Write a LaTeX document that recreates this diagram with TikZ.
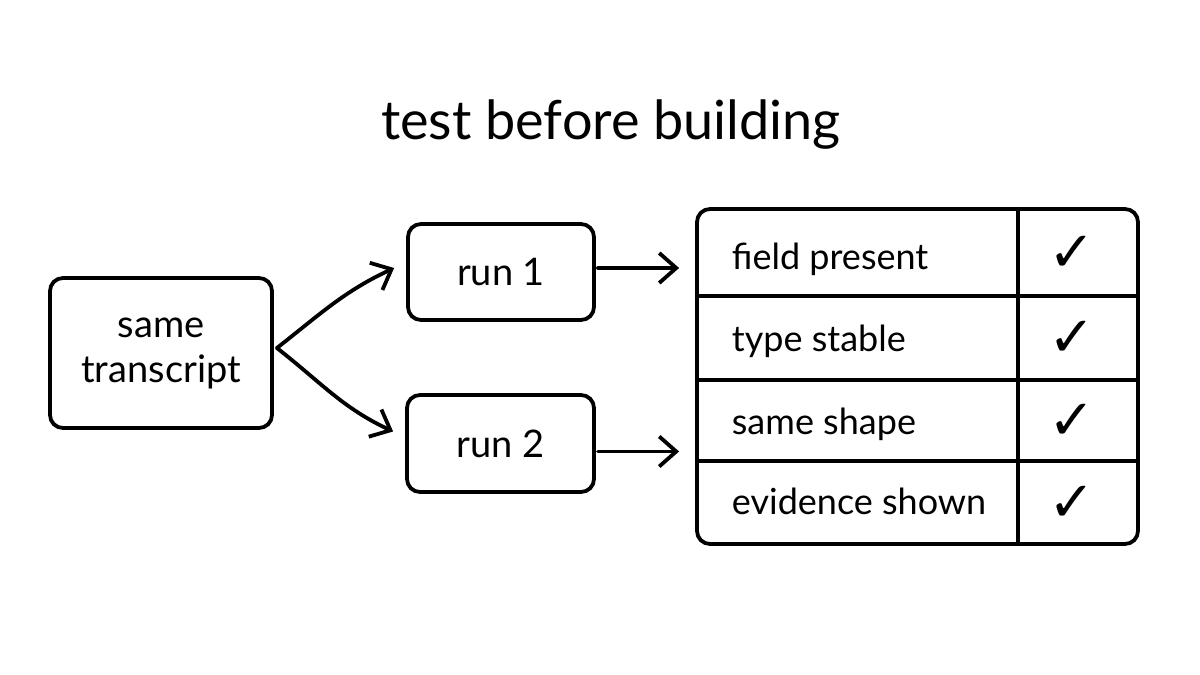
\documentclass[tikz,border=0pt]{standalone}
\usepackage{fontspec}
\setmainfont{Lato}
\newfontfamily\symfont{DejaVu Sans}
\usetikzlibrary{arrows.meta,calc}
\begin{document}
\begin{tikzpicture}[x=1pt,y=1pt,
  line width=3.8pt, line cap=round, line join=round,
  boxstyle/.style={draw, rounded corners=13pt, inner sep=0pt, align=center, font=\fontsize{38}{45}\selectfont},
  rowtext/.style={anchor=base west, inner sep=0pt, font=\fontsize{36}{42}\selectfont},
  tick/.style={inner sep=0pt, font=\symfont\fontsize{56}{60}\selectfont},
  conn/.style={-{Straight Barb[length=17pt,width=30pt,line width=3.8pt]}}]
\useasboundingbox (0,0) rectangle (1200,675);
\fill[white] (0,0) rectangle (1200,675);
\node[anchor=base, font=\fontsize{54}{60}\selectfont, inner sep=0pt] (title) at (611,535) {test before building};
\node[boxstyle, minimum width=222pt, minimum height=150pt] (src) at (161,322) {same\\transcript};
\node[boxstyle, minimum width=186pt, minimum height=96pt] (run1) at (501,403) {run 1};
\node[boxstyle, minimum width=187pt, minimum height=97pt] (run2) at (500.5,231.5) {run 2};
\node[draw, rounded corners=13pt, minimum width=441pt, minimum height=335pt, inner sep=0pt] (table) at (917.5,298.5) {};
% table rules
\draw (1018,466) -- (1018,131);
\draw (697,379) -- (1138,379);
\draw (697,295) -- (1138,295);
\draw (697,214) -- (1138,214);
% row texts
\node[rowtext] (r1) at (730,405) {field present};
\node[rowtext] (r2) at (730,323) {type stable};
\node[rowtext] (r3) at (730,240) {same shape};
\node[rowtext] (r4) at (730,160) {evidence shown};
\node[tick] (t1) at (1072,421) {✓};
\node[tick] (t2) at (1072,336) {✓};
\node[tick] (t3) at (1072,253) {✓};
\node[tick] (t4) at (1072,171) {✓};
% connectors
\coordinate (e1) at ($(run1.west)+(-12,4)$);
\coordinate (e2) at ($(run2.west)+(-12,12)$);
\draw[conn] ($(src.east)+(3,5)$) to[out=38, in=205] (e1);
\draw[conn] ($(src.east)+(3,5)$) to[out=-38, in=155] (e2);
\coordinate (f1) at ($(run1.east -| table.west)+(-16,4)$);
\coordinate (f2) at ($(run2.east -| table.west)+(-16,-8)$);
\draw[conn] ($(run1.east)+(2,4)$) -- (f1);
\draw[conn] ($(run2.east)+(2,-8)$) -- (f2);
\end{tikzpicture}
\end{document}
